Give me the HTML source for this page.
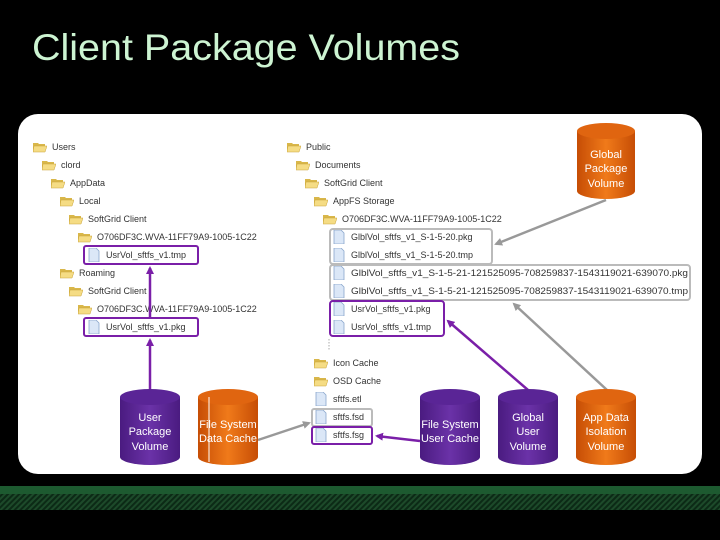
<!DOCTYPE html>
<html><head><meta charset="utf-8"><style>
html,body{margin:0;padding:0;background:#000;width:720px;height:540px;overflow:hidden}
svg{display:block}
.t{font-family:"Liberation Sans",sans-serif;font-size:9px;fill:#333}
.c{font-family:"Liberation Sans",sans-serif;font-size:11px;fill:#fff;text-anchor:middle}
</style></head><body>
<svg width="720" height="540" viewBox="0 0 720 540" xmlns="http://www.w3.org/2000/svg">
<defs>
<linearGradient id="or" x1="0" x2="1"><stop offset="0" stop-color="#c64d05"/><stop offset=".5" stop-color="#f07a1a"/><stop offset="1" stop-color="#c64d05"/></linearGradient>
<linearGradient id="pu" x1="0" x2="1"><stop offset="0" stop-color="#4a1b80"/><stop offset=".5" stop-color="#6b32a8"/><stop offset="1" stop-color="#4a1b80"/></linearGradient>
<pattern id="hat" width="4" height="4" patternUnits="userSpaceOnUse" patternTransform="rotate(45)"><rect width="4" height="4" fill="#0c2a16"/><rect width="2" height="4" fill="#1d4a2a"/></pattern>
<symbol id="fold" viewBox="0 0 14 12"><path d="M0 2h5l1 1h6v8H0z" fill="#d9b74a"/><path d="M1 5h13l-2 6H0z" fill="#f5dc84" stroke="#c9a43a" stroke-width=".5"/></symbol>
<symbol id="file" viewBox="0 0 12 14"><path d="M1 0h7l3 3v11H1z" fill="#dbe7f7" stroke="#8aa6cc" stroke-width=".8"/></symbol>
<marker id="ag" markerWidth="8" markerHeight="8" refX="6" refY="4" orient="auto" markerUnits="userSpaceOnUse"><path d="M0 0L8 4L0 8z" fill="#999"/></marker>
<marker id="ap" markerWidth="8" markerHeight="8" refX="6" refY="4" orient="auto" markerUnits="userSpaceOnUse"><path d="M0 0L8 4L0 8z" fill="#7a1fa8"/></marker>
</defs>
<rect width="720" height="540" fill="#000"/>
<text x="32" y="60" font-family="'Liberation Sans',sans-serif" font-size="37" fill="#cdf4d2" textLength="428" lengthAdjust="spacingAndGlyphs">Client Package Volumes</text>
<rect x="18" y="114" width="684" height="360" rx="20" fill="#fff"/>
<rect x="0" y="486" width="720" height="8" fill="#1d5a30"/>
<rect x="0" y="494" width="720" height="16" fill="url(#hat)"/>

<!-- left tree -->
<g>
<use href="#fold" x="33" y="141" width="14" height="12"/><text class="t" x="52" y="150">Users</text>
<use href="#fold" x="42" y="159" width="14" height="12"/><text class="t" x="61" y="168">clord</text>
<use href="#fold" x="51" y="177" width="14" height="12"/><text class="t" x="70" y="186">AppData</text>
<use href="#fold" x="60" y="195" width="14" height="12"/><text class="t" x="79" y="204">Local</text>
<use href="#fold" x="69" y="213" width="14" height="12"/><text class="t" x="88" y="222">SoftGrid Client</text>
<use href="#fold" x="78" y="231" width="14" height="12"/><text class="t" x="97" y="240">O706DF3C.WVA-11FF79A9-1005-1C22</text>
<use href="#file" x="88" y="248" width="12" height="14"/><text class="t" x="106" y="258">UsrVol_sftfs_v1.tmp</text>
<use href="#fold" x="60" y="267" width="14" height="12"/><text class="t" x="79" y="276">Roaming</text>
<use href="#fold" x="69" y="285" width="14" height="12"/><text class="t" x="88" y="294">SoftGrid Client</text>
<use href="#fold" x="78" y="303" width="14" height="12"/><text class="t" x="97" y="312">O706DF3C.WVA-11FF79A9-1005-1C22</text>
<use href="#file" x="88" y="320" width="12" height="14"/><text class="t" x="106" y="330">UsrVol_sftfs_v1.pkg</text>
</g>
<rect x="84" y="246" width="114" height="18" rx="2" fill="none" stroke="#7a1fa8" stroke-width="2"/>
<rect x="84" y="318" width="114" height="18" rx="2" fill="none" stroke="#7a1fa8" stroke-width="2"/>

<!-- right tree -->
<g>
<use href="#fold" x="287" y="141" width="14" height="12"/><text class="t" x="306" y="150">Public</text>
<use href="#fold" x="296" y="159" width="14" height="12"/><text class="t" x="315" y="168">Documents</text>
<use href="#fold" x="305" y="177" width="14" height="12"/><text class="t" x="324" y="186">SoftGrid Client</text>
<use href="#fold" x="314" y="195" width="14" height="12"/><text class="t" x="333" y="204">AppFS Storage</text>
<use href="#fold" x="323" y="213" width="14" height="12"/><text class="t" x="342" y="222">O706DF3C.WVA-11FF79A9-1005-1C22</text>
<use href="#file" x="333" y="230" width="12" height="14"/><text class="t" x="351" y="240">GlblVol_sftfs_v1_S-1-5-20.pkg</text>
<use href="#file" x="333" y="248" width="12" height="14"/><text class="t" x="351" y="258">GlblVol_sftfs_v1_S-1-5-20.tmp</text>
<use href="#file" x="333" y="266" width="12" height="14"/><text class="t" x="351" y="276" textLength="337" lengthAdjust="spacingAndGlyphs">GlblVol_sftfs_v1_S-1-5-21-121525095-708259837-1543119021-639070.pkg</text>
<use href="#file" x="333" y="284" width="12" height="14"/><text class="t" x="351" y="294" textLength="337" lengthAdjust="spacingAndGlyphs">GlblVol_sftfs_v1_S-1-5-21-121525095-708259837-1543119021-639070.tmp</text>
<use href="#file" x="333" y="302" width="12" height="14"/><text class="t" x="351" y="312">UsrVol_sftfs_v1.pkg</text>
<use href="#file" x="333" y="320" width="12" height="14"/><text class="t" x="351" y="330">UsrVol_sftfs_v1.tmp</text>
<line x1="329" y1="339" x2="329" y2="350" stroke="#aaa" stroke-dasharray="1.5 1.5"/>
<use href="#fold" x="314" y="357" width="14" height="12"/><text class="t" x="333" y="366">Icon Cache</text>
<use href="#fold" x="314" y="375" width="14" height="12"/><text class="t" x="333" y="384">OSD Cache</text>
<use href="#file" x="315" y="392" width="12" height="14"/><text class="t" x="333" y="402">sftfs.etl</text>
<use href="#file" x="315" y="410" width="12" height="14"/><text class="t" x="333" y="420">sftfs.fsd</text>
<use href="#file" x="315" y="428" width="12" height="14"/><text class="t" x="333" y="438">sftfs.fsg</text>
</g>
<rect x="330" y="229" width="162" height="35" rx="3" fill="none" stroke="#bbb" stroke-width="2"/>
<rect x="330" y="265" width="360" height="35" rx="3" fill="none" stroke="#bbb" stroke-width="2"/>
<rect x="330" y="301" width="114" height="35" rx="3" fill="none" stroke="#7a1fa8" stroke-width="2"/>
<rect x="312" y="409" width="60" height="17" rx="2" fill="none" stroke="#bbb" stroke-width="2"/>
<rect x="312" y="427" width="60" height="17" rx="2" fill="none" stroke="#7a1fa8" stroke-width="2"/>

<!-- arrows -->
<line x1="150" y1="390" x2="150" y2="340" stroke="#7a1fa8" stroke-width="2.5" marker-end="url(#ap)"/>
<line x1="150" y1="318" x2="150" y2="268" stroke="#7a1fa8" stroke-width="2.5" marker-end="url(#ap)"/>
<line x1="606" y1="200" x2="496" y2="244" stroke="#999" stroke-width="2.5" marker-end="url(#ag)"/>
<line x1="528" y1="390" x2="448" y2="321" stroke="#7a1fa8" stroke-width="2.5" marker-end="url(#ap)"/>
<line x1="607" y1="390" x2="514" y2="304" stroke="#999" stroke-width="2.5" marker-end="url(#ag)"/>
<line x1="258" y1="440" x2="309" y2="423" stroke="#999" stroke-width="2.5" marker-end="url(#ag)"/>
<line x1="420" y1="441" x2="377" y2="436" stroke="#7a1fa8" stroke-width="2.5" marker-end="url(#ap)"/>

<!-- cylinders -->
<g>
<path d="M120 397v60a30 8 0 0 0 60 0v-60z" fill="url(#pu)"/><ellipse cx="150" cy="397" rx="30" ry="8" fill="#5a2596"/>
<text class="c" x="150" y="421">User</text><text class="c" x="150" y="435">Package</text><text class="c" x="150" y="450">Volume</text>
<path d="M198 397v60a30 8 0 0 0 60 0v-60z" fill="url(#or)"/><ellipse cx="228" cy="397" rx="30" ry="8" fill="#e06510"/>
<line x1="209" y1="397" x2="209" y2="462" stroke="#fff" stroke-width="1"/>
<text class="c" x="228" y="428">File System</text><text class="c" x="228" y="442">Data Cache</text>
<path d="M420 397v60a30 8 0 0 0 60 0v-60z" fill="url(#pu)"/><ellipse cx="450" cy="397" rx="30" ry="8" fill="#5a2596"/>
<text class="c" x="450" y="428">File System</text><text class="c" x="450" y="442">User Cache</text>
<path d="M498 397v60a30 8 0 0 0 60 0v-60z" fill="url(#pu)"/><ellipse cx="528" cy="397" rx="30" ry="8" fill="#5a2596"/>
<text class="c" x="528" y="421">Global</text><text class="c" x="528" y="435">User</text><text class="c" x="528" y="450">Volume</text>
<path d="M576 397v60a30 8 0 0 0 60 0v-60z" fill="url(#or)"/><ellipse cx="606" cy="397" rx="30" ry="8" fill="#e06510"/>
<text class="c" x="606" y="421">App Data</text><text class="c" x="606" y="435">Isolation</text><text class="c" x="606" y="450">Volume</text>
<path d="M577 131v60a29 8 0 0 0 58 0v-60z" fill="url(#or)"/><ellipse cx="606" cy="131" rx="29" ry="8" fill="#e06510"/>
<text class="c" x="606" y="158">Global</text><text class="c" x="606" y="172">Package</text><text class="c" x="606" y="187">Volume</text>
</g>
</svg>
</body></html>
